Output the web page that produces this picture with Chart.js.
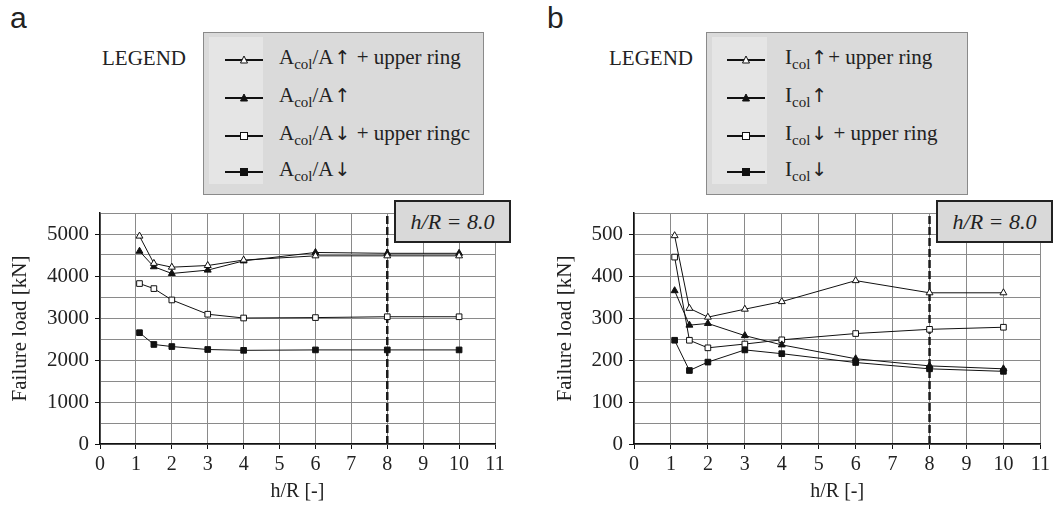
<!DOCTYPE html>
<html>
<head>
<meta charset="utf-8">
<script src="https://cdn.jsdelivr.net/npm/chart.js@4/dist/chart.umd.min.js"></script>
<style>
  html, body { margin:0; padding:0; background:#fff; }
  body { width:1054px; height:511px; position:relative; overflow:hidden; font-family:'Liberation Serif'; color:#222; }
  .panel { position:absolute; font-family:'Liberation Sans'; font-size:30px; line-height:30px; color:#222; }
  .cv { position:absolute; top:190px; }
  .legword { position:absolute; font-family:'Liberation Serif'; font-size:21px; top:46px; }
  .legbox { position:absolute; top:32px; height:163px; background:#dadada; border:1px solid #8a8a8a; box-sizing:border-box; }
  .strip { position:absolute; top:4px; bottom:10px; left:5px; background:#e5e5e5; }
  .row { position:absolute; height:30px; font-family:'Liberation Serif'; font-size:21px; white-space:nowrap; }
  .row svg { position:absolute; left:0; top:0; }
  .row span.t { position:absolute; top:0px; }
  .ar { font-family:'DejaVu Sans'; font-size:19px; color:#222; font-weight:normal; margin:0 1px; }
  sub { font-size:15px; vertical-align:-5px; line-height:0; }
  .hrbox { position:absolute; top:200px; height:43px; width:117px; box-sizing:border-box; background:#d9d9d9; border:2px solid #222; font-family:'Liberation Serif'; font-style:italic; font-size:22px; text-align:center; line-height:39px; z-index:5; }
</style>
</head>
<body>
<div class="panel" style="left:10px;top:3px;">a</div>
<div class="panel" style="left:547px;top:3px;">b</div>

<div class="legword" style="left:102px;">LEGEND</div>
<div class="legbox" style="left:203px;width:281px;"><div class="strip" style="width:54px;"></div><div id="legA"></div></div>
<div class="legword" style="left:609px;">LEGEND</div>
<div class="legbox" style="left:706px;width:262px;"><div class="strip" style="width:55px;"></div><div id="legB"></div></div>

<canvas id="cA" class="cv" width="527" height="321" style="left:0px;"></canvas>
<canvas id="cB" class="cv" width="527" height="321" style="left:527px;"></canvas>

<div class="hrbox" style="left:394px;">h/R = 8.0</div>
<div class="hrbox" style="left:936px;">h/R = 8.0</div>

<script>
// ---- data ----
const hR = [1.1, 1.5, 2, 3, 4, 6, 8, 10];
const xTickMax = 11;
const refX = 8;

// panel a: A_col/A variations [kN]
const aUpRing   = [4950, 4300, 4210, 4250, 4380, 4480, 4480, 4480];
const aUp       = [4590, 4220, 4060, 4140, 4360, 4560, 4540, 4540];
const aDownRing = [3820, 3700, 3430, 3090, 3000, 3010, 3030, 3030];
const aDown     = [2650, 2370, 2320, 2250, 2230, 2240, 2240, 2240];
const aYMax = 5500, aYStep = 500, aYLabelStep = 1000;

// panel b: I_col variations [kN]
const iUpRing   = [496, 323, 302, 321, 339, 389, 360, 360];
const iUp       = [365, 283, 287, 258, 236, 203, 186, 179];
const iDownRing = [445, 247, 229, 238, 248, 263, 273, 278];
const iDown     = [247, 175, 195, 224, 215, 194, 179, 173];
const bYMax = 550, bYStep = 50, bYLabelStep = 100;

const UP = '<span class="ar">↑</span>', DN = '<span class="ar">↓</span>';
const legendA = ['A<sub>col</sub>/A' + UP + ' + upper ring', 'A<sub>col</sub>/A' + UP, 'A<sub>col</sub>/A' + DN + ' + upper ringc', 'A<sub>col</sub>/A' + DN];
const legendB = ['I<sub>col</sub>' + UP + '+ upper ring', 'I<sub>col</sub>' + UP, 'I<sub>col</sub>' + DN + ' + upper ring', 'I<sub>col</sub>' + DN];

const markers = [
  {style:'triangle', fill:'#fff'},
  {style:'triangle', fill:'#111'},
  {style:'rect', fill:'#fff'},
  {style:'rect', fill:'#111'}
];

// ---- legends (HTML) ----
function buildLegend(id, labels, pos) {
  const el = document.getElementById(id);
  const rowTops = [12, 50, 88, 124];
  labels.forEach((lab, i) => {
    const m = markers[i];
    const shape = m.style === 'triangle'
      ? '<polygon points="19,11 15.5,18 22.5,18" fill="'+m.fill+'" stroke="#111" stroke-width="1"/>'
      : '<rect x="15.5" y="11.5" width="7" height="7" fill="'+m.fill+'" stroke="#111" stroke-width="1"/>';
    const row = document.createElement('div');
    row.className = 'row';
    row.style.left = pos.line + 'px';
    row.style.top = rowTops[i] + 'px';
    row.innerHTML = '<svg width="40" height="30"><line x1="0" y1="15" x2="38" y2="15" stroke="#111" stroke-width="2.2"/>' + shape + '</svg>' +
      '<span class="t" style="left:' + pos.text + 'px">' + lab + '</span>';
    el.appendChild(row);
  });
}
buildLegend('legA', legendA, {line:21, text:54});
buildLegend('legB', legendB, {line:20, text:58});

// ---- charts ----
const serif = "'Liberation Serif'";
Chart.defaults.font.family = serif;
function ds(values, i) {
  const m = markers[i];
  return {
    data: hR.map((x, k) => ({x: x, y: values[k]})),
    borderColor: '#111', borderWidth: 1,
    pointStyle: m.style, pointRadius: 4, pointHoverRadius: 4,
    pointBackgroundColor: m.fill, pointBorderColor: '#111', pointBorderWidth: 1,
    tension: 0, fill: false
  };
}
function makeChart(id, series, yMax, yStep, yLabelStep, yWidth, titlePad, rightPad) {
  const datasets = series.map((s, i) => ds(s, i));
  datasets.push({
    data: [{x: refX, y: 0}, {x: refX, y: yMax}],
    borderColor: '#1a1a1a', borderWidth: 2.5, borderDash: [8, 3],
    pointRadius: 0, fill: false
  });
  new Chart(document.getElementById(id), {
    type: 'line',
    data: {datasets},
    options: {
      responsive: false, animation: false, devicePixelRatio: 1,
      layout: {padding: {left: 0, right: rightPad, top: 23, bottom: 0}},
      plugins: {legend: {display: false}, tooltip: {enabled: false}},
      scales: {
        x: {
          type: 'linear', min: 0, max: xTickMax,
          afterFit: s => { s.height = 67; },
          ticks: {stepSize: 1, autoSkip: false, maxRotation: 0, padding: 4, color: '#222', font: {family: serif, size: 20}},
          grid: {color: '#8a8a8a', borderDash: [2, 2], lineWidth: 1, tickLength: 5, tickColor: '#111', tickBorderDash: []},
          border: {color: '#111', width: 1.5, dash: []},
          title: {display: true, text: 'h/R [-]', color: '#222', font: {family: serif, size: 20}, padding: {top: 0, bottom: 7}}
        },
        y: {
          min: 0, max: yMax,
          afterFit: s => { s.width = yWidth; },
          ticks: {stepSize: yStep, autoSkip: false, padding: 6, color: '#222', font: {family: serif, size: 21},
            callback: v => (v % yLabelStep === 0 ? String(v) : '')},
          grid: {color: '#8a8a8a', borderDash: [2, 2], lineWidth: 1, tickLength: 5,
            tickColor: c => (c.tick && c.tick.value % yLabelStep === 0 ? '#111' : 'rgba(0,0,0,0)'), tickBorderDash: []},
          border: {color: '#111', width: 1.5, dash: []},
          title: {display: true, text: 'Failure load [kN]', color: '#222', font: {family: serif, size: 21}, padding: {top: titlePad, bottom: 0}}
        }
      }
    }
  });
}
makeChart('cA', [aUpRing, aUp, aDownRing, aDown], aYMax, aYStep, aYLabelStep, 100, 8, 32);
makeChart('cB', [iUpRing, iUp, iDownRing, iDown], bYMax, bYStep, bYLabelStep, 107, 26, 13);
</script>
</body>
</html>
